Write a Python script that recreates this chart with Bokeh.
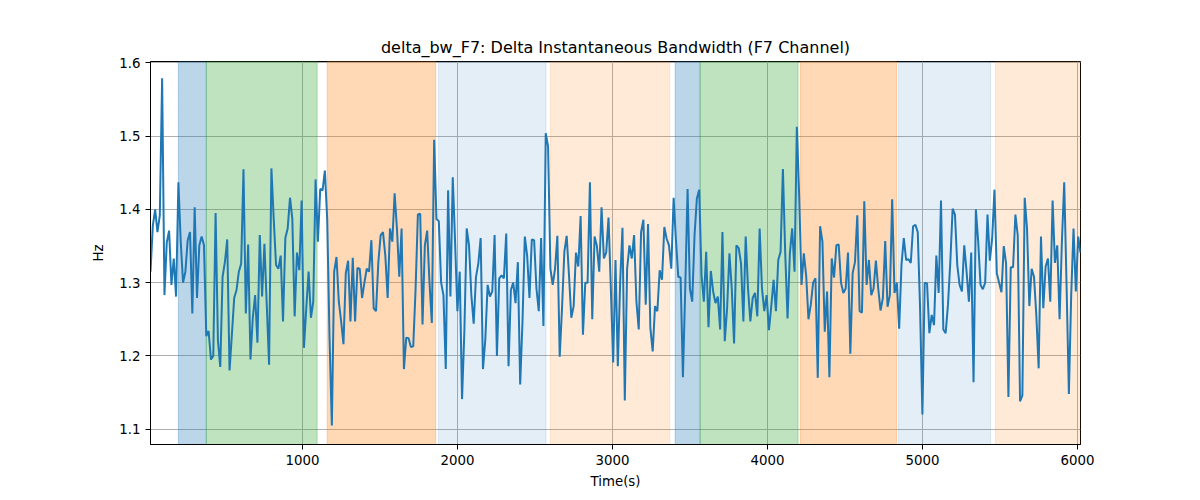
from bokeh.core.properties import value
from bokeh.embed import file_html
from bokeh.models import BoxAnnotation, ColumnDataSource, FixedTicker, Range1d
from bokeh.plotting import figure
from bokeh.resources import INLINE

# sample times (s): regular sampling
T_START = 20
T_STEP = 15

delta_bw = [
    1.315, 1.378, 1.400, 1.369, 1.392, 1.579, 1.283, 1.355, 1.371, 1.297,
    1.333, 1.281, 1.437, 1.356, 1.300, 1.315, 1.358, 1.369, 1.258, 1.403,
    1.279, 1.351, 1.363, 1.351, 1.227, 1.234, 1.195, 1.200, 1.395, 1.221,
    1.185, 1.308, 1.328, 1.359, 1.180, 1.229, 1.279, 1.290, 1.315, 1.326,
    1.455, 1.258, 1.352, 1.195, 1.252, 1.283, 1.218, 1.365, 1.281,
    1.353, 1.270, 1.188, 1.456, 1.387, 1.324, 1.319, 1.337, 1.247, 1.361,
    1.374, 1.416, 1.387, 1.254, 1.341, 1.317, 1.412, 1.211, 1.265, 1.315,
    1.252, 1.274, 1.441, 1.356, 1.428, 1.426, 1.453, 1.387, 1.225, 1.105,
    1.315, 1.335, 1.274, 1.247, 1.216, 1.313, 1.330, 1.247, 1.334, 1.247,
    1.320, 1.319, 1.279, 1.300, 1.319, 1.315, 1.358, 1.265, 1.261,
    1.328, 1.365, 1.369, 1.337, 1.279, 1.374, 1.356, 1.422, 1.374, 1.308,
    1.374, 1.182, 1.225, 1.224, 1.212, 1.213, 1.290, 1.393, 1.394, 1.243,
    1.351, 1.371, 1.300, 1.245, 1.495, 1.387, 1.384, 1.300, 1.283, 1.182,
    1.426, 1.281, 1.444, 1.356, 1.261, 1.315, 1.141, 1.234, 1.374, 1.351,
    1.283, 1.244, 1.308, 1.326, 1.361, 1.182, 1.222, 1.297, 1.281, 1.288,
    1.365, 1.200, 1.306, 1.310, 1.306, 1.367, 1.186, 1.290, 1.300, 1.272,
    1.328, 1.161, 1.247, 1.363, 1.337, 1.279, 1.359, 1.358, 1.292, 1.261,
    1.361, 1.241, 1.504, 1.486, 1.319, 1.297, 1.319, 1.364, 1.199, 1.265,
    1.342, 1.364, 1.310, 1.252, 1.268, 1.341, 1.322, 1.391, 1.229, 1.300,
    1.300, 1.437, 1.250, 1.363, 1.350, 1.315, 1.403, 1.333, 1.341, 1.389,
    1.292, 1.191, 1.331, 1.186, 1.300, 1.375, 1.139, 1.319, 1.351, 1.333,
    1.365, 1.274, 1.236, 1.369, 1.386, 1.270, 1.380, 1.238, 1.206, 1.268,
    1.261, 1.317, 1.304, 1.376, 1.360, 1.351, 1.319, 1.416, 1.358, 1.308,
    1.307, 1.171, 1.292, 1.428, 1.292, 1.274, 1.365, 1.415, 1.427, 1.310,
    1.274, 1.342, 1.239, 1.316, 1.288, 1.272, 1.281, 1.236, 1.369, 1.220,
    1.265, 1.340, 1.292, 1.217, 1.351, 1.347, 1.326, 1.247, 1.363, 1.292,
    1.247, 1.279, 1.286, 1.254, 1.374, 1.292, 1.261, 1.283, 1.235, 1.268,
    1.304, 1.261, 1.331, 1.342, 1.455, 1.340, 1.251, 1.340, 1.374, 1.315,
    1.513, 1.419, 1.297, 1.340, 1.310, 1.250, 1.270, 1.300, 1.306, 1.170,
    1.377, 1.356, 1.233, 1.288, 1.171, 1.333, 1.307, 1.351, 1.352,
    1.300, 1.286, 1.292, 1.341, 1.203, 1.313, 1.328, 1.392, 1.261, 1.259,
    1.411, 1.297, 1.331, 1.283, 1.292, 1.330, 1.292, 1.262, 1.279, 1.357,
    1.267, 1.283, 1.414, 1.286, 1.300, 1.237, 1.324, 1.361, 1.331, 1.332,
    1.327, 1.377, 1.379, 1.369, 1.265, 1.120, 1.300, 1.299, 1.231, 1.256,
    1.242, 1.337, 1.286, 1.412, 1.236, 1.231, 1.270, 1.328, 1.401,
    1.393, 1.324, 1.297, 1.288, 1.351, 1.315, 1.274, 1.341, 1.164, 1.400,
    1.356, 1.297, 1.291, 1.300, 1.393, 1.330, 1.360, 1.427, 1.313, 1.300,
    1.287, 1.350, 1.326, 1.144, 1.321, 1.321, 1.393, 1.365, 1.138, 1.146,
    1.416, 1.374, 1.268, 1.319, 1.308, 1.256, 1.183, 1.363, 1.265, 1.322,
    1.333, 1.274, 1.412, 1.327, 1.351, 1.250, 1.356, 1.437, 1.297, 1.148,
    1.283, 1.374, 1.288, 1.363, 1.341,
]
times = [T_START + i * T_STEP for i in range(len(delta_bw))]

# shaded phases
span_start = [200, 380, 1160, 1877, 2600, 3405, 3566, 4212, 4845, 5472]
span_end = [380, 1095, 1860, 2572, 3370, 3566, 4198, 4833, 5440, 6100]
span_kind = ["a", "b", "c", "d", "e", "a", "b", "c", "d", "e"]
kind_color = {"a": "#1f77b4", "b": "#2ca02c", "c": "#ff7f0e", "d": "#1f77b4", "e": "#ff7f0e"}
kind_alpha = {"a": 0.3, "b": 0.3, "c": 0.3, "d": 0.12, "e": 0.16}

x_ticks = [1000, 2000, 3000, 4000, 5000, 6000]
y_ticks = [1.1, 1.2, 1.3, 1.4, 1.5, 1.6]

FONT = "DejaVu Sans"

p = figure(width=1200, height=500,
           x_range=Range1d(times[0], times[-1]),
           y_range=Range1d(1.079, 1.602),
           title="delta_bw_F7: Delta Instantaneous Bandwidth (F7 Channel)",
           output_backend="svg", toolbar_location=None, tools="",
           min_border_left=150, min_border_right=120,
           min_border_top=61, min_border_bottom=56)

p.title.align = "center"
p.title.text_font = FONT
p.title.text_font_size = "16px"
p.title.text_font_style = "normal"
p.title.text_color = "black"

p.outline_line_color = "black"
p.outline_line_width = 1
p.outline_line_alpha = 1

p.xgrid.ticker = FixedTicker(ticks=x_ticks)
p.ygrid.ticker = FixedTicker(ticks=y_ticks)
p.grid.grid_line_color = "#b0b0b0"
p.grid.grid_line_width = 1

p.xaxis.ticker = FixedTicker(ticks=x_ticks)
p.yaxis.ticker = FixedTicker(ticks=y_ticks)
p.xaxis.axis_label = "Time(s)"
p.yaxis.axis_label = "Hz"
for ax in (p.xaxis, p.yaxis):
    ax.axis_label_text_font = FONT
    ax.axis_label_text_font_size = "13.33px"
    ax.axis_label_text_font_style = "normal"
    ax.axis_label_text_color = "black"
    ax.major_label_text_font = FONT
    ax.major_label_text_font_size = "13.33px"
    ax.major_label_text_color = "black"
    ax.minor_tick_line_color = None
    ax.major_tick_in = 0
    ax.major_tick_out = 5
    ax.major_tick_line_color = "black"
    ax.axis_line_color = "black"
p.xaxis.axis_label_standoff = 6
p.yaxis.axis_label_standoff = 10

for s, e, k in zip(span_start, span_end, span_kind):
    p.add_layout(BoxAnnotation(left=s, right=e, level="underlay",
                               fill_color=kind_color[k], fill_alpha=kind_alpha[k],
                               line_color=kind_color[k], line_alpha=kind_alpha[k],
                               line_width=1))

src = ColumnDataSource(data=dict(t=times, v=delta_bw))
p.line(x="t", y="v", source=src, line_color="#1f77b4", line_width=2)

open("out.html", "w").write(file_html(p, INLINE))
